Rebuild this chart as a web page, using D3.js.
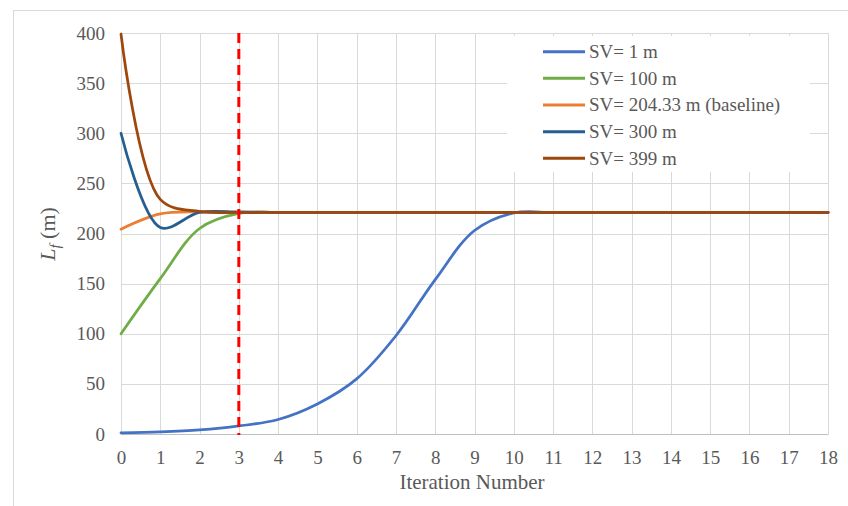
<!DOCTYPE html>
<html>
<head>
<meta charset="utf-8">
<script src="https://cdn.jsdelivr.net/npm/d3@7"></script>
<style>
  body { margin: 0; background: #fff; }
</style>
</head>
<body>
<div id="graf"></div>
<script>
// datos
iteraciones = d3.range(0, 19)
sv1   = [1, 2, 4, 8, 14.5, 30, 55, 98, 154, 203, 220.5, 221, 221, 221, 221, 221, 221, 221, 221]
sv100 = [100, 155, 205, 220, 221, 221, 221, 221, 221, 221, 221, 221, 221, 221, 221, 221, 221, 221, 221]
sv204 = [204.33, 219.5, 221.5, 221, 221, 221, 221, 221, 221, 221, 221, 221, 221, 221, 221, 221, 221, 221, 221]
sv300 = [300, 206, 221, 221.5, 221, 221, 221, 221, 221, 221, 221, 221, 221, 221, 221, 221, 221, 221, 221]
sv399 = [399, 234, 222, 221, 221, 221, 221, 221, 221, 221, 221, 221, 221, 221, 221, 221, 221, 221, 221]
nombres = ['SV= 1 m', 'SV= 100 m', 'SV= 204.33 m (baseline)', 'SV= 300 m', 'SV= 399 m']
colores = ['#4472C4', '#70AD47', '#ED7D31', '#255E91', '#9E480E']
yTicks = [0, 50, 100, 150, 200, 250, 300, 350, 400]
xTicks = d3.range(0, 19)
lineaCorte = 3

series = [sv1, sv100, sv204, sv300, sv399]

fuente = "'Liberation Serif', 'Times New Roman', serif"
ancho_total = 848
alto_total = 506

svg = d3.select('#graf').append('svg')
        .attr('width', ancho_total)
        .attr('height', alto_total)
        .attr('font-family', fuente)

// borde del area del grafico
svg.append('rect')
   .attr('x', 13.5).attr('y', 10.5)
   .attr('width', 900).attr('height', 600)
   .attr('fill', 'none')
   .attr('stroke', '#D9D9D9')

x = d3.scaleLinear().domain([0, 18]).range([121, 828])
y = d3.scaleLinear().domain([0, 400]).range([434, 33])

// grilla
g = svg.append('g')
g.selectAll('.hg').data(yTicks).enter().append('line')
  .attr('x1', x(0)).attr('x2', x(18))
  .attr('y1', d => Math.round(y(d)) + 0.5).attr('y2', d => Math.round(y(d)) + 0.5)
  .attr('stroke', '#D9D9D9').attr('stroke-width', 1)
g.selectAll('.vg').data(xTicks).enter().append('line')
  .attr('y1', y(0)).attr('y2', y(400))
  .attr('x1', d => Math.round(x(d)) + 0.5).attr('x2', d => Math.round(x(d)) + 0.5)
  .attr('stroke', '#D9D9D9').attr('stroke-width', 1)

// ejes
xAxisCall = d3.axisBottom(x).tickValues(xTicks).tickSize(0).tickPadding(17).tickFormat(d3.format('d'))
xAxisGroup = svg.append('g').attr('transform', `translate(0, ${ y(0) })`).call(xAxisCall)
xAxisGroup.attr('font-family', fuente).attr('font-size', 19)
xAxisGroup.select('.domain').attr('stroke', '#BFBFBF')
xAxisGroup.selectAll('text').attr('fill', '#595959')

yAxisCall = d3.axisLeft(y).tickValues(yTicks).tickSize(0).tickPadding(16)
yAxisGroup = svg.append('g').attr('transform', `translate(${ x(0) }, 0)`).call(yAxisCall)
yAxisGroup.attr('font-family', fuente).attr('font-size', 19)
yAxisGroup.select('.domain').remove()
yAxisGroup.selectAll('text').attr('fill', '#595959')

// titulos
svg.append('text')
   .attr('x', 472).attr('y', 489)
   .attr('text-anchor', 'middle')
   .attr('font-size', 21)
   .attr('fill', '#595959')
   .text('Iteration Number')

tituloY = svg.append('text')
   .attr('transform', 'translate(55, 234) rotate(-90)')
   .attr('text-anchor', 'middle')
   .attr('font-size', 22)
   .attr('fill', '#595959')
tituloY.append('tspan').attr('font-style', 'italic').text('L')
tituloY.append('tspan').attr('font-style', 'italic').attr('font-size', 15).attr('dy', 5).text('f')
tituloY.append('tspan').attr('dy', -5).text(' (m)')

// lineas
linea = d3.line()
          .x((d, i) => x(iteraciones[i]))
          .y(d => y(d))
          .curve(d3.curveCatmullRom.alpha(0.5))

svg.selectAll('.serie').data(series).enter().append('path')
   .attr('d', d => linea(d))
   .attr('fill', 'none')
   .attr('stroke', (d, i) => colores[i])
   .attr('stroke-width', 2.75)
   .attr('stroke-linecap', 'round')

// linea de corte en la iteracion 3
svg.append('line')
   .attr('x1', x(lineaCorte)).attr('x2', x(lineaCorte))
   .attr('y1', y(400)).attr('y2', y(0) + 1)
   .attr('stroke', '#FF0000')
   .attr('stroke-width', 3)
   .attr('stroke-dasharray', '10,6')

// leyenda
leyenda = svg.append('g')
leyenda.append('rect')
   .attr('x', 507).attr('y', 36)
   .attr('width', 303).attr('height', 136)
   .attr('fill', '#fff')
items = leyenda.selectAll('.item').data(nombres).enter().append('g')
   .attr('transform', (d, i) => `translate(543, ${ 51.7 + i * 26.65 })`)
items.append('line')
   .attr('x1', 0).attr('x2', 42)
   .attr('stroke', (d, i) => colores[i])
   .attr('stroke-width', 3)
items.append('text')
   .attr('x', 46).attr('dy', '0.34em')
   .attr('font-size', 19)
   .attr('fill', '#595959')
   .text(d => d)
</script>
</body>
</html>
